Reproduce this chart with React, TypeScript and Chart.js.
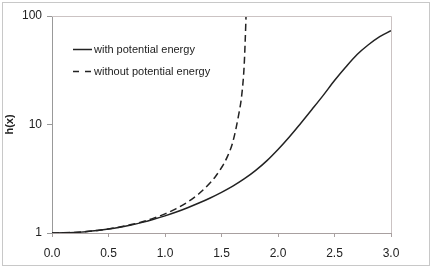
import React, { useEffect, useRef } from "react";
import { Chart, registerables } from "chart.js";

Chart.register(...registerables);

const solidX = [0, 0.1, 0.2, 0.3, 0.4, 0.5, 0.6, 0.7, 0.8, 0.9, 1.0, 1.1, 1.2, 1.3, 1.4, 1.5, 1.6, 1.7, 1.8, 1.9, 2.0, 2.1, 2.2, 2.3, 2.4, 2.5, 2.6, 2.7, 2.8, 2.9, 3.0];
const solidY = [1, 1.003, 1.013, 1.029, 1.053, 1.086, 1.13, 1.186, 1.253, 1.337, 1.439, 1.56, 1.71, 1.888, 2.104, 2.371, 2.704, 3.148, 3.758, 4.624, 5.888, 7.674, 10.23, 13.74, 18.54, 25.41, 33.88, 44.16, 54.33, 64.57, 73.28];

const dashX = [0, 0.1, 0.2, 0.3, 0.4, 0.5, 0.6, 0.7, 0.8, 0.9, 1.0, 1.1, 1.2, 1.3, 1.4, 1.45, 1.5, 1.55, 1.6, 1.65, 1.68, 1.7, 1.71, 1.72];
const dashY = [1, 1.003, 1.013, 1.03, 1.056, 1.09, 1.136, 1.195, 1.27, 1.37, 1.5, 1.68, 1.93, 2.3, 2.9, 3.35, 4.0, 5.0, 6.9, 12, 19, 34, 60, 125];

const xTicks = [0, 0.5, 1.0, 1.5, 2.0, 2.5, 3.0];
const yTicks = [1, 10, 100];

const legendLabels = ["with potential energy", "without potential energy"];
const yTitle = "h(x)";

const FONT = "'Liberation Sans', Arial, sans-serif";

export default function App() {
  const ref = useRef<HTMLCanvasElement>(null);

  useEffect(() => {
    const canvas = ref.current;
    if (!canvas) return;

    const framePlugin = {
      id: "frame",
      beforeDraw(chart: any) {
        const { ctx, width, height } = chart;
        ctx.save();
        ctx.fillStyle = "#ffffff";
        ctx.fillRect(0, 0, width, height);
        ctx.strokeStyle = "#c8c8c8";
        ctx.lineWidth = 1;
        ctx.strokeRect(2.5, 2.5, 427, 263);
        ctx.restore();
      },
      afterDatasetsDraw(chart: any) {
        const { ctx, chartArea } = chart;
        ctx.save();
        ctx.strokeStyle = "#cbc3c3";
        ctx.lineWidth = 1;
        ctx.beginPath();
        ctx.moveTo(chartArea.left, chartArea.top + 0.5);
        ctx.lineTo(chartArea.right + 0.5, chartArea.top + 0.5);
        ctx.lineTo(chartArea.right + 0.5, chartArea.bottom);
        ctx.stroke();
        ctx.restore();
      },
      afterDraw(chart: any) {
        const { ctx } = chart;
        ctx.save();
        ctx.strokeStyle = "#222";
        ctx.lineWidth = 1.5;
        ctx.font = `11px ${FONT}`;
        ctx.fillStyle = "#222";
        ctx.textBaseline = "middle";
        ctx.textAlign = "left";
        const rows = [49.5, 71.5];
        rows.forEach((y, i) => {
          ctx.setLineDash(i === 0 ? [] : [6, 6]);
          ctx.beginPath();
          ctx.moveTo(73, y);
          ctx.lineTo(92, y);
          ctx.stroke();
          ctx.fillText(legendLabels[i], 94, y + 0.5);
        });
        ctx.restore();
      },
    };

    const chart = new Chart(canvas, {
      type: "line",
      data: {
        datasets: [
          {
            label: legendLabels[0],
            data: solidX.map((x, i) => ({ x, y: solidY[i] })),
            borderColor: "#222",
            borderWidth: 1.5,
            pointRadius: 0,
            cubicInterpolationMode: "monotone",
            fill: false,
          },
          {
            label: legendLabels[1],
            data: dashX.map((x, i) => ({ x, y: dashY[i] })),
            borderColor: "#222",
            borderWidth: 1.5,
            borderDash: [7, 4],
            pointRadius: 0,
            cubicInterpolationMode: "monotone",
            fill: false,
          },
        ],
      },
      options: {
        responsive: false,
        animation: false,
        layout: { padding: { left: 0, top: 16, right: 41, bottom: 0 } },
        plugins: {
          legend: { display: false },
          tooltip: { enabled: false },
        },
        scales: {
          x: {
            type: "linear",
            min: 0,
            max: 3,
            afterBuildTicks: (scale: any) => {
              scale.ticks = xTicks.map((v) => ({ value: v }));
            },
            afterFit: (scale: any) => {
              scale.height = 35;
            },
            ticks: {
              callback: (v: any) => Number(v).toFixed(1),
              font: { family: FONT, size: 12 },
              color: "#222",
              padding: 9,
              maxRotation: 0,
            },
            grid: {
              drawOnChartArea: false,
              drawTicks: true,
              tickLength: 4,
              color: "#a8a0a0",
            },
            border: { display: true, color: "#a8a0a0", width: 1 },
          },
          y: {
            type: "logarithmic",
            min: 1,
            max: 100,
            afterBuildTicks: (scale: any) => {
              scale.ticks = yTicks.map((v) => ({ value: v }));
            },
            afterFit: (scale: any) => {
              scale.width = 52;
            },
            ticks: {
              callback: (v: any) => String(v),
              font: { family: FONT, size: 12 },
              color: "#222",
              padding: 5,
            },
            grid: {
              drawOnChartArea: false,
              drawTicks: true,
              tickLength: 5,
              color: "#999",
            },
            border: { display: true, color: "#999", width: 1 },
            title: {
              display: true,
              text: yTitle,
              font: { family: FONT, size: 11, weight: "bold" },
              color: "#222",
              padding: { top: 3, bottom: 0 },
            },
          },
        },
      },
      plugins: [framePlugin],
    } as any);

    return () => chart.destroy();
  }, []);

  return (
    <div style={{ position: "fixed", left: 0, top: 0, width: 432, height: 268 }}>
      <canvas ref={ref} width={432} height={268} style={{ display: "block" }} />
    </div>
  );
}
